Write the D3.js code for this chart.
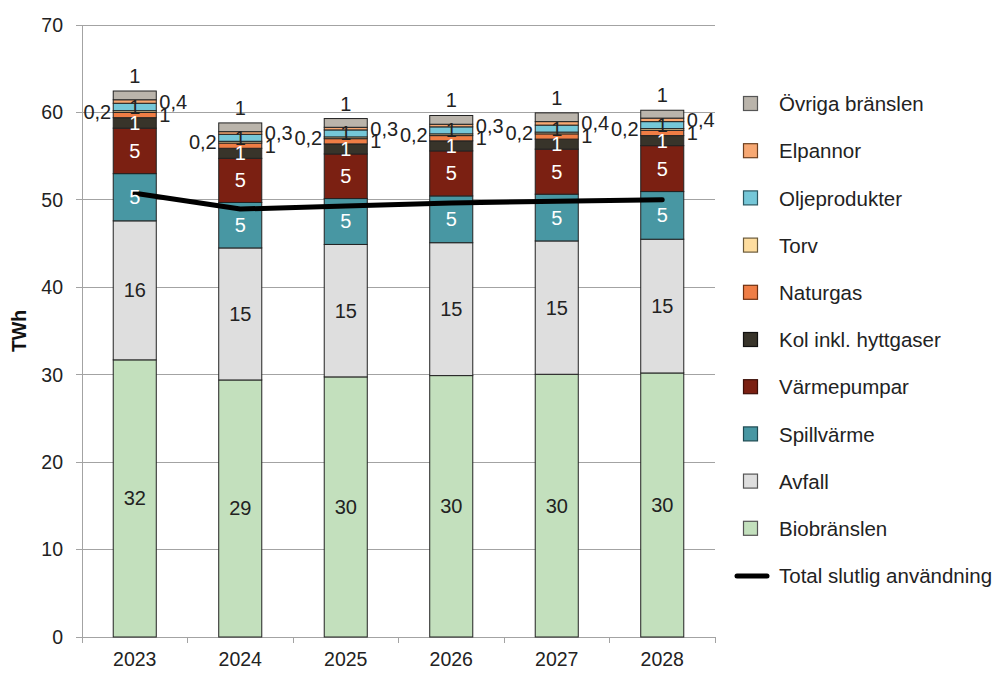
<!DOCTYPE html>
<html>
<head>
<meta charset="utf-8">
<script src="https://cdn.jsdelivr.net/npm/d3@7"></script>
<style>
  html, body { margin: 0; padding: 0; background: #fff; }
  svg text { font-family: "Liberation Sans", Arial, Helvetica, sans-serif; }
</style>
</head>
<body>
<svg id="chart" width="995" height="673"></svg>
<script>
// Fjärrvärme: tillförd energi per bränsle (TWh) och total slutlig användning
const years = ["2023", "2024", "2025", "2026", "2027", "2028"];
const biobranslen = [31.7, 29.4, 29.75, 29.9, 30.05, 30.2];
const avfall      = [15.9, 15.1, 15.15, 15.2, 15.25, 15.3];
const spillvarme  = [5.4, 5.2, 5.25, 5.35, 5.35, 5.45];
const varmepumpar = [5.2, 5.05, 5.1, 5.15, 5.15, 5.25];
const kol         = [1.2, 1.15, 1.15, 1.15, 1.15, 1.15];
const naturgas    = [0.6, 0.6, 0.6, 0.6, 0.6, 0.6];
const torv        = [0.2, 0.2, 0.2, 0.2, 0.2, 0.2];
const oljeprod    = [0.85, 0.8, 0.8, 0.8, 0.8, 0.8];
const elpannor    = [0.4, 0.3, 0.3, 0.3, 0.4, 0.4];
const ovriga      = [1.0, 1.0, 1.0, 1.0, 1.0, 0.9];
const totalSlutlig = [50.75, 48.95, 49.3, 49.65, 49.85, 50.0];
const yTicks = [0, 10, 20, 30, 40, 50, 60, 70];

// Stack order bottom -> top
const series = [
  { name: "Biobränslen",        values: biobranslen, fill: "#c3e0bd", stroke: "#555", text: "#222", pos: "inside" },
  { name: "Avfall",             values: avfall,      fill: "#dedede", stroke: "#555", text: "#222", pos: "inside" },
  { name: "Spillvärme",         values: spillvarme,  fill: "#4897a3", stroke: "#1f4a52", text: "#fff", pos: "inside" },
  { name: "Värmepumpar",        values: varmepumpar, fill: "#7b2012", stroke: "#3d0f08", text: "#fff", pos: "inside" },
  { name: "Kol inkl. hyttgaser",values: kol,         fill: "#38342a", stroke: "#111", text: "#fff", pos: "inside" },
  { name: "Naturgas",           values: naturgas,    fill: "#ef7d45", stroke: "#6e3010", text: "#222", pos: "right" },
  { name: "Torv",               values: torv,        fill: "#fedd9f", stroke: "#6b5a3a", text: "#222", pos: "left" },
  { name: "Oljeprodukter",      values: oljeprod,    fill: "#75c7d8", stroke: "#2b5862", text: "#222", pos: "inside" },
  { name: "Elpannor",           values: elpannor,    fill: "#f7a873", stroke: "#6e4020", text: "#222", pos: "right" },
  { name: "Övriga bränslen",    values: ovriga,      fill: "#bab4ab", stroke: "#555", text: "#222", pos: "above" }
];

const svg = d3.select("#chart");
const margin = { left: 82, right: 715, top: 25, bottom: 637 };

const x = d3.scaleBand().domain(years).range([margin.left, margin.right])
  .paddingInner(0.592).paddingOuter(0.296);
const y = d3.scaleLinear().domain([0, 70]).range([margin.bottom, margin.top]);

const fmt = v => v < 0.5 ? d3.format(".1f")(v).replace(".", ",") : String(Math.round(v));

// Gridlines (extend slightly left as tick marks)
svg.append("g").selectAll("line").data(yTicks).join("line")
  .attr("x1", 76).attr("x2", margin.right)
  .attr("y1", d => y(d)).attr("y2", d => y(d))
  .attr("stroke", "#a3a3a3").attr("stroke-width", 1).attr("shape-rendering", "crispEdges");

// Y axis line
svg.append("line").attr("x1", margin.left).attr("x2", margin.left)
  .attr("y1", y(70)).attr("y2", y(0))
  .attr("stroke", "#a3a3a3").attr("shape-rendering", "crispEdges");

// Y tick labels
svg.append("g").selectAll("text").data(yTicks).join("text")
  .attr("x", 63).attr("y", d => y(d)).attr("dy", "0.35em")
  .attr("text-anchor", "end").attr("font-size", 19.5).attr("fill", "#222")
  .text(d => d);

// Y axis title
svg.append("text").attr("transform", `translate(26,${(y(0) + y(70)) / 2}) rotate(-90)`)
  .attr("text-anchor", "middle").attr("font-size", 19.5).attr("font-weight", "bold")
  .attr("fill", "#111").text("TWh");

// X axis with ticks at category boundaries
const xAxis = d3.axisBottom(x).tickSize(0).tickPadding(15);
const gx = svg.append("g").attr("transform", `translate(0,${y(0)})`).call(xAxis);
gx.select(".domain").attr("stroke", "#a3a3a3");
gx.selectAll("text").attr("font-size", 19.5).attr("fill", "#222")
  .style("font-family", '"Liberation Sans", Arial, sans-serif');
const bounds = years.map(d => x(d) - x.step() * x.paddingInner() / 2).concat([margin.right]);
gx.append("g").selectAll("line").data(bounds).join("line")
  .attr("x1", d => d).attr("x2", d => d).attr("y1", 0).attr("y2", 6)
  .attr("stroke", "#a3a3a3").attr("shape-rendering", "crispEdges");

// Stack data
const rows = years.map((yr, i) => {
  const r = { year: yr };
  series.forEach(s => { r[s.name] = s.values[i]; });
  return r;
});
const stack = d3.stack().keys(series.map(s => s.name));
const stacked = stack(rows);

const barG = svg.append("g");
stacked.forEach((layer, si) => {
  const s = series[si];
  barG.append("g").selectAll("rect").data(layer).join("rect")
    .attr("x", d => x(d.data.year))
    .attr("width", x.bandwidth())
    .attr("y", d => y(d[1]))
    .attr("height", d => y(d[0]) - y(d[1]))
    .attr("fill", s.fill)
    .attr("stroke", "#222").attr("stroke-width", 1);
});

// Total slutlig användning line
const line = d3.line().x((d, i) => x(years[i]) + x.bandwidth() / 2).y(d => y(d));
svg.append("path").datum(totalSlutlig)
  .attr("d", line).attr("fill", "none")
  .attr("stroke", "#000").attr("stroke-width", 5)
  .attr("stroke-linecap", "round").attr("stroke-linejoin", "round");

// Segment value labels
const labG = svg.append("g");
stacked.forEach((layer, si) => {
  const s = series[si];
  labG.append("g").selectAll("text").data(layer).join("text")
    .attr("font-size", 20)
    .attr("fill", s.text)
    .attr("dy", "0.35em")
    .attr("text-anchor", s.pos === "right" ? "start" : s.pos === "left" ? "end" : "middle")
    .attr("x", d => {
      const x0 = x(d.data.year);
      if (s.pos === "right") return x0 + x.bandwidth() + 3;
      if (s.pos === "left") return x0 - 2;
      return x0 + x.bandwidth() / 2;
    })
    .attr("y", d => s.pos === "above" ? y(d[1]) - 15 : (y(d[0]) + y(d[1])) / 2)
    .text(d => fmt(d[1] - d[0]));
});

// Legend
const legendItems = series.slice().reverse();
const lg = svg.append("g");
legendItems.forEach((s, i) => {
  const cy = 104 + i * 47.2;
  lg.append("rect").attr("x", 743.5).attr("y", cy - 7.5).attr("width", 14).attr("height", 14)
    .attr("fill", s.fill).attr("stroke", s.stroke).attr("stroke-width", 1.2);
  lg.append("text").attr("x", 779).attr("y", cy).attr("dy", "0.35em")
    .attr("font-size", 20.5).attr("fill", "#222").text(s.name);
});
const ly = 104 + legendItems.length * 47.2;
lg.append("line").attr("x1", 737).attr("x2", 767).attr("y1", ly).attr("y2", ly)
  .attr("stroke", "#000").attr("stroke-width", 5).attr("stroke-linecap", "round");
lg.append("text").attr("x", 779).attr("y", ly).attr("dy", "0.35em")
  .attr("font-size", 20.5).attr("fill", "#222").text("Total slutlig användning");
</script>
</body>
</html>
